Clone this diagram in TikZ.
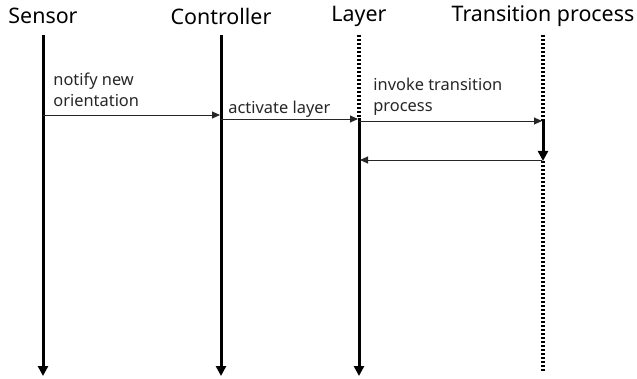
\documentclass[tikz,border=0pt]{standalone}
\usepackage{fontspec}
\setmainfont{Noto Sans}
\usetikzlibrary{arrows.meta}

\begin{document}
\begin{tikzpicture}[x=0.5pt,y=-0.5pt,
  head/.style={font=\fontsize{10.7}{12}\selectfont,inner sep=0pt},
  lbl/.style={font=\fontsize{8.2}{10.5}\selectfont,align=left,inner sep=0pt,text=black!85},
  lifeline/.style={line width=1.5pt,-{Triangle[length=5pt,width=5pt]}},
  dotline/.style={line width=1.6pt,dash pattern=on 1pt off 1pt},
  msg/.style={line width=0.45pt,draw=black!85,-{Triangle[length=4pt,width=3.5pt]}}]
  \useasboundingbox (0,0) rectangle (637,379);
  % headers
  \node[head] (sensor) at (43,16) {Sensor};
  \node[head] (ctrl) at (221,16) {Controller};
  \node[head] (layer) at (359,16) {Layer};
  \node[head] (trans) at (543,16) {Transition process};
  % lifelines
  \coordinate (s0) at (43,35);   \coordinate (s1) at (43,376);
  \coordinate (c0) at (221,35);  \coordinate (c1) at (221,376);
  \coordinate (l0) at (359,35);  \coordinate (l1) at (359,118);  \coordinate (l2) at (359,376);
  \coordinate (t0) at (543,35);  \coordinate (t1) at (543,121);
  \coordinate (t2) at (543,161); \coordinate (t3) at (543,372);
  \draw[lifeline] (s0) -- (s1);
  \draw[lifeline] (c0) -- (c1);
  \draw[dotline] (l0) -- (l1);
  \draw[lifeline] (l1) -- (l2);
  \draw[dotline] (t0) -- (t1);
  \draw[lifeline] (t1) -- (t2);
  \draw[dotline] (t2) -- (t3);
  % messages
  \coordinate (m1a) at (43,115);  \coordinate (m1b) at (220,115);
  \coordinate (m2a) at (221,119); \coordinate (m2b) at (358,119);
  \coordinate (m3a) at (359,121); \coordinate (m3b) at (542,121);
  \coordinate (m4a) at (542,160); \coordinate (m4b) at (360,160);
  \draw[msg] (m1a) -- (m1b);
  \draw[msg] (m2a) -- (m2b);
  \draw[msg] (m3a) -- (m3b);
  \draw[msg] (m4a) -- (m4b);
  \node[lbl,anchor=north west] (notify) at (53,73) {notify new\\orientation};
  \node[lbl,anchor=north west] (activate) at (228,101) {activate layer};
  \node[lbl,anchor=north west] (invoke) at (373,78) {invoke transition\\process};
\end{tikzpicture}
\end{document}
